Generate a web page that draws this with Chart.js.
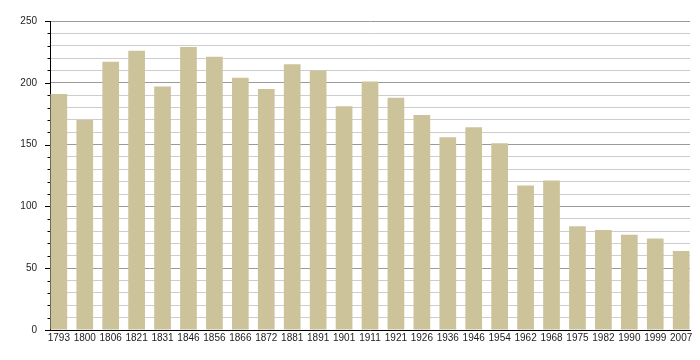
<!DOCTYPE html>
<html>
<head>
<meta charset="utf-8">
<script src="https://cdn.jsdelivr.net/npm/chart.js@4"></script>
<style>
  html, body { margin: 0; padding: 0; background: #fff; }
  #wrap { width: 700px; height: 360px; }
</style>
</head>
<body>
<div id="wrap"><canvas id="popChart"></canvas></div>
<script>
const years = ['1793', '1800', '1806', '1821', '1831', '1846', '1856', '1866', '1872', '1881',
  '1891', '1901', '1911', '1921', '1926', '1936', '1946', '1954', '1962', '1968',
  '1975', '1982', '1990', '1999', '2007'];
const population = [191, 170, 217, 226, 197, 229, 221, 204, 195, 215,
  210, 181, 201, 188, 174, 156, 164, 151, 117, 121,
  84, 81, 77, 74, 64];
const yTicks = [0, 50, 100, 150, 200, 250];

// short tick marks on the y axis: long ones at labelled values, short ones every 10
const yTickMarks = {
  id: 'yTickMarks',
  afterDraw(chart) {
    const y = chart.scales.y;
    const ctx = chart.ctx;
    ctx.save();
    ctx.strokeStyle = '#000';
    ctx.lineWidth = 1;
    for (let v = 0; v <= 250; v += 10) {
      const py = Math.round(y.getPixelForValue(v)) + 0.5;
      const len = yTicks.includes(v) ? 5 : 2.5;
      ctx.beginPath();
      ctx.moveTo(y.right - len, py);
      ctx.lineTo(y.right, py);
      ctx.stroke();
    }
    ctx.restore();
  }
};

document.addEventListener('DOMContentLoaded', () => {
  const ctx = document.getElementById('popChart').getContext('2d');
  new Chart(ctx, {
    type: 'bar',
    data: {
      datasets: [{
        data: population.map((v, i) => ({ x: i, y: v })),
        backgroundColor: '#ccc39b',
        categoryPercentage: 1,
        barPercentage: 0.644
      }]
    },
    options: {
      responsive: true,
      maintainAspectRatio: false,
      animation: false,
      layout: { padding: { top: 21, right: 10, left: 0, bottom: 0 } },
      plugins: { legend: { display: false }, tooltip: { enabled: false } },
      font: { family: 'Liberation Sans' },
      scales: {
        x: {
          type: 'linear',
          bounds: 'data',
          offset: false,
          min: -0.34,
          max: 24.34,
          grid: { display: false, drawTicks: false },
          border: { display: true, color: '#000', width: 1 },
          afterBuildTicks: s => { s.ticks = years.map((_, i) => ({ value: i })); },
          afterFit: s => { s.height = 30; },
          ticks: {
            autoSkip: false,
            maxRotation: 0,
            padding: 2,
            color: '#222',
            font: { family: 'Liberation Sans', size: 10 },
            callback: v => years[v]
          }
        },
        y: {
          min: 0,
          max: 250,
          afterFit: s => { s.width = 50; },
          border: { display: true, color: '#000', width: 1 },
          grid: {
            drawTicks: false,
            color: c => (c.tick && c.tick.value % 50 === 0) ? '#9a9a9a' : '#cdcdcd',
            lineWidth: 1
          },
          ticks: {
            stepSize: 10,
            maxTicksLimit: 40,
            autoSkip: false,
            padding: 13,
            color: '#222',
            font: { family: 'Liberation Sans', size: 10 },
            callback: v => yTicks.includes(v) ? v : ''
          }
        }
      }
    },
    plugins: [yTickMarks]
  });
});
</script>
</body>
</html>
